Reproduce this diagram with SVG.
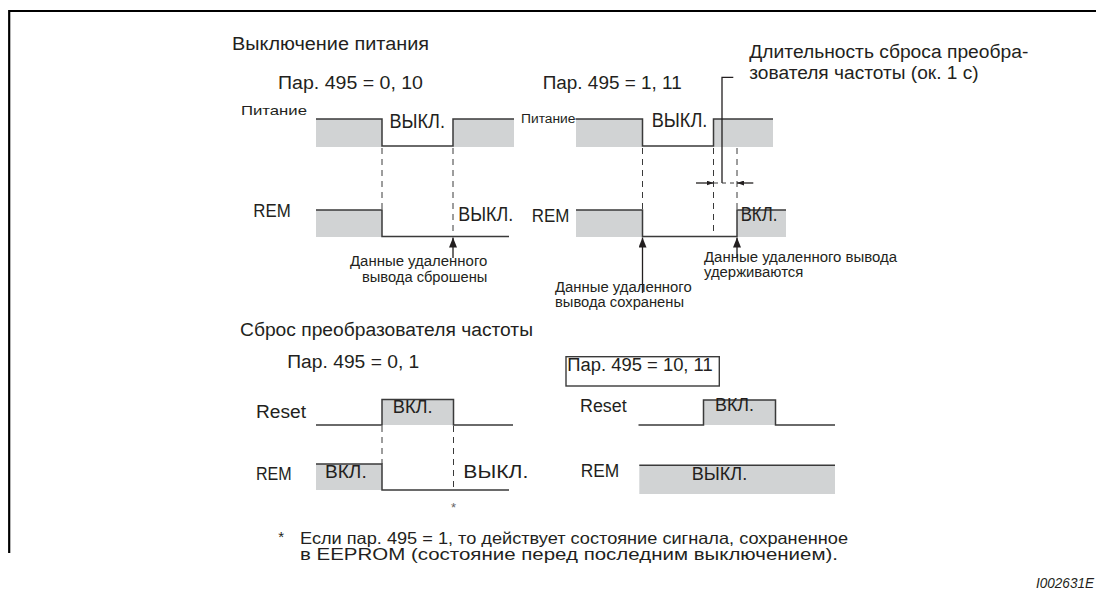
<svg xmlns="http://www.w3.org/2000/svg" width="1096" height="594" viewBox="0 0 1096 594">
<style>
  text { font-family: "Liberation Sans", "DejaVu Sans", sans-serif; fill: #231f20; }
  .frame { fill: none; stroke: #000; stroke-width: 2.2; }
  .sig { fill: none; stroke: #3a3a3a; stroke-width: 1.5; }
  .fillg { fill: #d1d3d4; stroke: none; }
  .dash { fill: none; stroke: #3a3a3a; stroke-width: 1; stroke-dasharray: 6 5; }
  .lead { fill: none; stroke: #231f20; stroke-width: 1.3; }
  .box { fill: none; stroke: #3a3a3a; stroke-width: 1.4; }
</style>
<defs>
  <marker id="ahUp" viewBox="0 0 10 8" refX="10" refY="4" markerWidth="10" markerHeight="8" markerUnits="userSpaceOnUse" orient="auto">
    <path d="M0,0 L10,4 L0,8 z" fill="#231f20"/>
  </marker>
  <marker id="ahDim" viewBox="0 0 7 5" refX="7" refY="2.5" markerWidth="7" markerHeight="5" markerUnits="userSpaceOnUse" orient="auto">
    <path d="M0,0 L7,2.5 L0,5 z" fill="#231f20"/>
  </marker>
</defs>
<rect width="1096" height="594" fill="#fff"/>

<g id="frame">
  <polyline class="frame" points="9.2,553 9.2,11 1096,11"/>
</g>

<g id="titles">
  <text x="232" y="50" font-size="18" textLength="197" lengthAdjust="spacingAndGlyphs">Выключение питания</text>
  <text x="240" y="336" font-size="18" textLength="293" lengthAdjust="spacingAndGlyphs">Сброс преобразователя частоты</text>
  <text x="749.3" y="57.5" font-size="18" textLength="279" lengthAdjust="spacingAndGlyphs">Длительность сброса преобра-</text>
  <text x="749.3" y="78.5" font-size="18" textLength="229.4" lengthAdjust="spacingAndGlyphs">зователя частоты (ок. 1 с)</text>
</g>

<g id="power-off-p0-10">
  <text x="278" y="89" font-size="18" textLength="145" lengthAdjust="spacingAndGlyphs">Пар. 495 = 0, 10</text>
  <text x="241" y="115" font-size="13.5" textLength="66" lengthAdjust="spacingAndGlyphs">Питание</text>
  <rect class="fillg" x="316" y="119" width="66" height="28"/>
  <rect class="fillg" x="453" y="119" width="61" height="28"/>
  <polyline class="sig" points="316,119 382,119 382,146 453,146 453,119 514,119"/>
  <text x="389.5" y="128" font-size="20" textLength="55.5" lengthAdjust="spacingAndGlyphs">ВЫКЛ.</text>
  <text x="253.3" y="216.7" font-size="18" textLength="37.4" lengthAdjust="spacingAndGlyphs">REM</text>
  <rect class="fillg" x="316" y="210" width="66" height="27"/>
  <polyline class="sig" points="316,210 382,210 382,236.5 509,236.5"/>
  <text x="458.3" y="220.7" font-size="20" textLength="55" lengthAdjust="spacingAndGlyphs">ВЫКЛ.</text>
  <text x="350" y="266" font-size="14" textLength="137.3" lengthAdjust="spacingAndGlyphs">Данные удаленного</text>
  <text x="362" y="281.7" font-size="14" textLength="125.3" lengthAdjust="spacingAndGlyphs">вывода сброшены</text>
</g>

<g id="power-off-p1-11">
  <text x="542.7" y="89.3" font-size="18" textLength="139" lengthAdjust="spacingAndGlyphs">Пар. 495 = 1, 11</text>
  <text x="521" y="123.3" font-size="12.5" textLength="54.5" lengthAdjust="spacingAndGlyphs">Питание</text>
  <rect class="fillg" x="576" y="119" width="66.5" height="28"/>
  <rect class="fillg" x="713.5" y="119" width="59.5" height="28"/>
  <polyline class="sig" points="575.5,119 642.5,119 642.5,146 713.5,146 713.5,119 773,119"/>
  <text x="651.7" y="127.3" font-size="20" textLength="55.7" lengthAdjust="spacingAndGlyphs">ВЫКЛ.</text>
  <text x="531.7" y="221.7" font-size="18" textLength="37.6" lengthAdjust="spacingAndGlyphs">REM</text>
  <rect class="fillg" x="576" y="210" width="66.5" height="27"/>
  <rect class="fillg" x="737" y="210" width="49" height="27"/>
  <polyline class="sig" points="576,210 642.5,210 642.5,236.5 737,236.5 737,210 786,210"/>
  <text x="740.7" y="220.7" font-size="20" textLength="36.6" lengthAdjust="spacingAndGlyphs">ВКЛ.</text>
  <text x="555" y="292.3" font-size="14" textLength="136.7" lengthAdjust="spacingAndGlyphs">Данные удаленного</text>
  <text x="555" y="307.3" font-size="14" textLength="129" lengthAdjust="spacingAndGlyphs">вывода сохранены</text>
  <text x="704" y="262.3" font-size="14" textLength="193" lengthAdjust="spacingAndGlyphs">Данные удаленного вывода</text>
  <text x="704" y="277.3" font-size="14" textLength="99.3" lengthAdjust="spacingAndGlyphs">удерживаются</text>
</g>

<g id="reset-p0-1">
  <text x="287.3" y="368.3" font-size="18" textLength="132" lengthAdjust="spacingAndGlyphs">Пар. 495 = 0, 1</text>
  <text x="256" y="418.3" font-size="18" textLength="50" lengthAdjust="spacingAndGlyphs">Reset</text>
  <rect class="fillg" x="382" y="399.5" width="71.5" height="25.5"/>
  <polyline class="sig" points="316,425 382,425 382,399.5 453.5,399.5 453.5,425 513,425"/>
  <text x="392.7" y="412.7" font-size="18" textLength="40" lengthAdjust="spacingAndGlyphs">ВКЛ.</text>
  <text x="256" y="480" font-size="18" textLength="35.7" lengthAdjust="spacingAndGlyphs">REM</text>
  <rect class="fillg" x="316" y="464" width="66" height="26"/>
  <polyline class="sig" points="316,464 382,464 382,490 509,490"/>
  <text x="325" y="478.3" font-size="18" textLength="41.7" lengthAdjust="spacingAndGlyphs">ВКЛ.</text>
  <text x="463.3" y="478.3" font-size="18" textLength="65" lengthAdjust="spacingAndGlyphs">ВЫКЛ.</text>
  <text x="453.5" y="512" font-size="13" text-anchor="middle" style="fill:#666">*</text>
</g>

<g id="reset-p10-11">
  <rect class="box" x="566" y="356.7" width="153.3" height="29.3"/>
  <text x="567.3" y="370.7" font-size="18" textLength="145.4" lengthAdjust="spacingAndGlyphs">Пар. 495 = 10, 11</text>
  <text x="580" y="411.7" font-size="18" textLength="46.7" lengthAdjust="spacingAndGlyphs">Reset</text>
  <rect class="fillg" x="703.5" y="400" width="72" height="25"/>
  <polyline class="sig" points="638.5,425 703.5,425 703.5,400 775.5,400 775.5,425 835,425"/>
  <text x="715" y="410.7" font-size="18" textLength="39" lengthAdjust="spacingAndGlyphs">ВКЛ.</text>
  <text x="580.7" y="476.7" font-size="18" textLength="38.6" lengthAdjust="spacingAndGlyphs">REM</text>
  <rect class="fillg" x="639.3" y="465.3" width="195.7" height="28.7"/>
  <line class="sig" x1="639.3" y1="465.3" x2="835" y2="465.3"/>
  <text x="691.7" y="480" font-size="18" textLength="55.6" lengthAdjust="spacingAndGlyphs">ВЫКЛ.</text>
</g>

<g id="connectors">
  <line class="dash" x1="382" y1="148" x2="382" y2="210"/>
  <line class="dash" x1="453" y1="148" x2="453" y2="236"/>
  <line class="lead" x1="453" y1="258" x2="453" y2="237.5" marker-end="url(#ahUp)"/>
  <line class="dash" x1="642.5" y1="148" x2="642.5" y2="210"/>
  <line class="dash" x1="713.5" y1="148" x2="713.5" y2="236"/>
  <line class="dash" x1="737" y1="148" x2="737" y2="210"/>
  <line class="lead" x1="642.5" y1="293" x2="642.5" y2="237.5" marker-end="url(#ahUp)"/>
  <line class="lead" x1="737" y1="257" x2="737" y2="237.5" marker-end="url(#ahUp)"/>
  <polyline class="lead" points="733.3,77.3 722,77.3 722,183"/>
  <line class="lead" x1="696" y1="183" x2="713.5" y2="183" marker-end="url(#ahDim)"/>
  <line class="lead" x1="753.3" y1="183" x2="737" y2="183" marker-end="url(#ahDim)"/>
  <line class="dash" x1="714" y1="183" x2="736" y2="183" style="stroke-dasharray:4 4"/>
  <line class="dash" x1="382" y1="426" x2="382" y2="464"/>
  <line class="dash" x1="453.5" y1="426" x2="453.5" y2="490"/>
</g>

<g id="footnote">
  <text x="278.3" y="542" font-size="15">*</text>
  <text x="300" y="544" font-size="16.5" textLength="548" lengthAdjust="spacingAndGlyphs">Если пар. 495 = 1, то действует состояние сигнала, сохраненное</text>
  <text x="300" y="560" font-size="16.5" textLength="538" lengthAdjust="spacingAndGlyphs">в EEPROM (состояние перед последним выключением).</text>
  <text x="1036" y="588.3" font-size="14" font-style="italic" textLength="58" lengthAdjust="spacingAndGlyphs">I002631E</text>
</g>
</svg>
